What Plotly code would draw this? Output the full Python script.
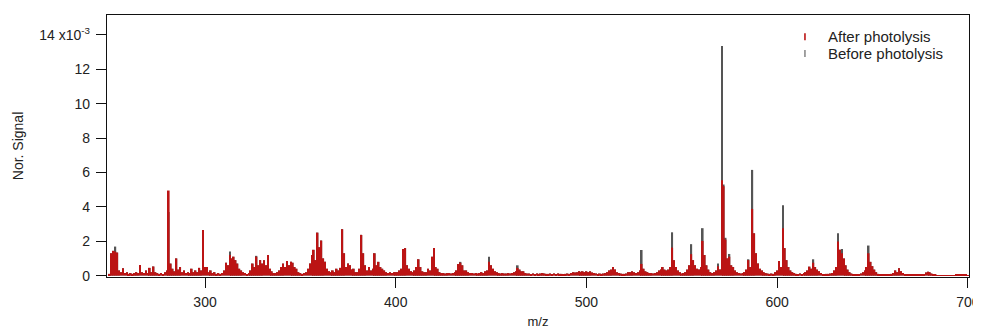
import plotly.graph_objects as go

# m/z axis: one stick per unit mass, 250 ... 700
mz = list(range(250, 701))

# Normalized signal (x10^-3), after photolysis (red)
after = [
    0.10, 1.30, 1.44, 1.40, 1.34, 0.30, 0.20, 0.43, 0.15, 0.20,   # 250-259
    0.10, 0.15, 0.10, 0.15, 0.20, 0.15, 0.62, 0.20, 0.15, 0.30,   # 260-269
    0.15, 0.45, 0.20, 0.53, 0.20, 0.15, 0.10, 0.15, 0.10, 0.20,   # 270-279
    0.30, 4.95, 0.70, 0.40, 0.25, 1.00, 0.35, 0.50, 0.20, 0.30,   # 280-289
    0.15, 0.20, 0.15, 0.40, 0.20, 0.30, 0.20, 0.45, 0.30, 2.66,   # 290-299
    0.50, 0.50, 0.20, 0.30, 0.15, 0.20, 0.10, 0.15, 0.10, 0.15,   # 300-309
    0.30, 0.75, 0.60, 1.20, 1.00, 1.10, 0.90, 0.70, 0.40, 0.30,   # 310-319
    0.20, 0.15, 0.10, 0.15, 0.30, 0.70, 0.50, 1.10, 0.60, 0.90,   # 320-329
    0.70, 0.90, 0.60, 1.20, 0.40, 0.25, 0.15, 0.15, 0.20, 0.30,   # 330-339
    0.50, 0.70, 0.50, 0.85, 0.60, 0.80, 0.75, 0.50, 0.40, 0.20,   # 340-349
    0.15, 0.10, 0.15, 0.20, 0.40, 0.70, 1.20, 1.50, 0.90, 2.50,   # 350-359
    1.65, 2.04, 1.00, 0.80, 0.40, 0.25, 0.20, 0.30, 0.20, 0.40,   # 360-369
    0.30, 0.45, 2.70, 1.30, 0.50, 0.70, 0.60, 0.35, 0.40, 0.20,   # 370-379
    0.20, 0.40, 2.37, 1.30, 0.60, 0.30, 0.50, 0.30, 0.40, 1.30,   # 380-389
    0.60, 0.80, 0.50, 0.40, 0.30, 0.20, 0.15, 0.20, 0.15, 0.20,   # 390-399
    0.20, 0.20, 0.30, 0.40, 1.55, 1.60, 0.60, 0.40, 0.25, 0.20,   # 400-409
    0.30, 0.50, 0.95, 0.50, 0.25, 0.20, 0.20, 0.40, 0.30, 1.10,   # 410-419
    1.60, 0.50, 0.40, 0.20, 0.15, 0.15, 0.12, 0.15, 0.15, 0.12,   # 420-429
    0.15, 0.20, 0.30, 0.67, 0.75, 0.60, 0.30, 0.30, 0.20, 0.15,   # 430-439
    0.15, 0.12, 0.15, 0.12, 0.15, 0.20, 0.15, 0.25, 0.30, 0.80,   # 440-449
    0.60, 0.40, 0.25, 0.20, 0.15, 0.12, 0.15, 0.12, 0.12, 0.15,   # 450-459
    0.12, 0.15, 0.20, 0.25, 0.45, 0.35, 0.25, 0.25, 0.15, 0.12,   # 460-469
    0.12, 0.10, 0.12, 0.10, 0.12, 0.10, 0.12, 0.15, 0.12, 0.10,   # 470-479
    0.10, 0.12, 0.10, 0.12, 0.10, 0.12, 0.10, 0.10, 0.08, 0.10,   # 480-489
    0.12, 0.10, 0.15, 0.20, 0.18, 0.20, 0.25, 0.22, 0.25, 0.20,   # 490-499
    0.25, 0.20, 0.25, 0.18, 0.15, 0.12, 0.10, 0.12, 0.10, 0.12,   # 500-509
    0.15, 0.20, 0.30, 0.35, 0.50, 0.35, 0.20, 0.15, 0.12, 0.10,   # 510-519
    0.10, 0.12, 0.20, 0.20, 0.25, 0.20, 0.15, 0.20, 0.30, 0.68,   # 520-529
    0.40, 0.25, 0.20, 0.15, 0.15, 0.12, 0.15, 0.20, 0.30, 0.35,   # 530-539
    0.50, 0.35, 0.30, 0.35, 0.50, 1.63, 0.90, 0.50, 0.30, 0.20,   # 540-549
    0.12, 0.15, 0.20, 0.35, 0.60, 1.25, 0.90, 0.60, 0.40, 0.35,   # 550-559
    0.50, 2.02, 1.20, 0.60, 0.35, 0.20, 0.15, 0.20, 0.30, 0.55,   # 560-569
    0.35, 5.55, 5.20, 2.10, 1.00, 1.10, 0.60, 0.50, 0.30, 0.20,   # 570-579
    0.15, 0.12, 0.15, 0.20, 0.35, 0.90, 0.50, 3.88, 2.46, 1.30,   # 580-589
    0.70, 0.40, 0.30, 0.20, 0.15, 0.12, 0.10, 0.12, 0.10, 0.20,   # 590-599
    0.30, 0.85, 0.50, 2.76, 1.60, 0.90, 0.50, 0.30, 0.20, 0.15,   # 600-609
    0.10, 0.10, 0.12, 0.10, 0.15, 0.20, 0.30, 0.52, 0.40, 0.75,   # 610-619
    0.50, 0.35, 0.25, 0.15, 0.10, 0.08, 0.10, 0.10, 0.12, 0.15,   # 620-629
    0.30, 0.50, 1.98, 1.50, 1.30, 1.00, 0.60, 0.35, 0.20, 0.12,   # 630-639
    0.08, 0.07, 0.08, 0.10, 0.12, 0.20, 0.30, 0.50, 1.30, 0.80,   # 640-649
    0.55, 0.35, 0.20, 0.10, 0.06, 0.05, 0.05, 0.05, 0.06, 0.08,   # 650-659
    0.10, 0.15, 0.30, 0.20, 0.43, 0.25, 0.15, 0.10, 0.06, 0.05,   # 660-669
    0.04, 0.04, 0.04, 0.04, 0.05, 0.06, 0.08, 0.10, 0.18, 0.23,   # 670-679
    0.20, 0.12, 0.06, 0.04, 0.03, 0.03, 0.03, 0.03, 0.03, 0.03,   # 680-689
    0.03, 0.03, 0.03, 0.03, 0.04, 0.04, 0.04, 0.04, 0.04, 0.04,   # 690-699
    0.03,                                                         # 700
]

# Normalized signal (x10^-3), before photolysis (grey)
before = [
    0.10, 1.30, 1.44, 1.69, 1.34, 0.30, 0.20, 0.43, 0.15, 0.20,   # 250-259
    0.10, 0.15, 0.10, 0.15, 0.20, 0.15, 0.62, 0.20, 0.15, 0.30,   # 260-269
    0.15, 0.45, 0.20, 0.53, 0.20, 0.15, 0.10, 0.15, 0.10, 0.20,   # 270-279
    0.30, 3.70, 0.70, 0.40, 0.25, 1.00, 0.35, 0.50, 0.20, 0.30,   # 280-289
    0.15, 0.20, 0.15, 0.40, 0.20, 0.30, 0.20, 0.45, 0.30, 1.78,   # 290-299
    0.50, 0.50, 0.20, 0.30, 0.15, 0.20, 0.10, 0.15, 0.10, 0.15,   # 300-309
    0.30, 0.75, 0.60, 1.40, 1.00, 1.10, 0.90, 0.70, 0.40, 0.30,   # 310-319
    0.20, 0.15, 0.10, 0.15, 0.30, 0.70, 0.50, 1.15, 0.60, 0.90,   # 320-329
    0.70, 0.90, 0.60, 1.20, 0.40, 0.25, 0.15, 0.15, 0.20, 0.30,   # 330-339
    0.50, 0.70, 0.50, 0.85, 0.60, 0.80, 0.75, 0.50, 0.40, 0.20,   # 340-349
    0.15, 0.10, 0.15, 0.20, 0.40, 0.70, 1.20, 1.50, 0.90, 2.50,   # 350-359
    1.65, 2.04, 1.00, 0.80, 0.40, 0.25, 0.20, 0.30, 0.20, 0.40,   # 360-369
    0.30, 0.45, 2.70, 1.30, 0.50, 0.70, 0.60, 0.35, 0.40, 0.20,   # 370-379
    0.20, 0.40, 2.37, 1.30, 0.60, 0.30, 0.50, 0.30, 0.40, 1.30,   # 380-389
    0.60, 0.80, 0.50, 0.40, 0.30, 0.20, 0.15, 0.20, 0.15, 0.20,   # 390-399
    0.20, 0.20, 0.30, 0.40, 1.55, 1.60, 0.60, 0.40, 0.25, 0.20,   # 400-409
    0.30, 0.50, 0.95, 0.50, 0.25, 0.20, 0.20, 0.40, 0.30, 1.10,   # 410-419
    1.60, 0.50, 0.40, 0.20, 0.15, 0.15, 0.12, 0.15, 0.15, 0.12,   # 420-429
    0.15, 0.20, 0.30, 0.67, 0.80, 0.60, 0.30, 0.30, 0.20, 0.15,   # 430-439
    0.15, 0.12, 0.15, 0.12, 0.15, 0.20, 0.15, 0.25, 0.30, 1.10,   # 440-449
    0.60, 0.40, 0.25, 0.20, 0.15, 0.12, 0.15, 0.12, 0.12, 0.15,   # 450-459
    0.12, 0.15, 0.20, 0.25, 0.60, 0.35, 0.25, 0.25, 0.15, 0.12,   # 460-469
    0.12, 0.10, 0.12, 0.10, 0.12, 0.10, 0.12, 0.15, 0.12, 0.10,   # 470-479
    0.10, 0.12, 0.10, 0.12, 0.10, 0.12, 0.10, 0.10, 0.08, 0.10,   # 480-489
    0.12, 0.10, 0.15, 0.20, 0.18, 0.20, 0.25, 0.22, 0.25, 0.20,   # 490-499
    0.25, 0.20, 0.25, 0.18, 0.15, 0.12, 0.10, 0.12, 0.10, 0.12,   # 500-509
    0.15, 0.20, 0.30, 0.35, 0.50, 0.35, 0.20, 0.15, 0.12, 0.10,   # 510-519
    0.10, 0.12, 0.20, 0.20, 0.25, 0.20, 0.15, 0.20, 0.30, 1.49,   # 520-529
    0.40, 0.25, 0.20, 0.15, 0.15, 0.12, 0.15, 0.20, 0.30, 0.35,   # 530-539
    0.50, 0.35, 0.30, 0.35, 0.50, 2.52, 0.90, 0.50, 0.30, 0.20,   # 540-549
    0.12, 0.15, 0.20, 0.35, 0.60, 1.83, 0.90, 0.60, 0.40, 0.35,   # 550-559
    0.50, 2.76, 1.20, 0.60, 0.35, 0.20, 0.15, 0.20, 0.30, 0.70,   # 560-569
    0.35, 13.35, 5.30, 2.20, 1.00, 1.26, 0.60, 0.50, 0.30, 0.20,  # 570-579
    0.15, 0.12, 0.15, 0.20, 0.35, 0.95, 0.50, 6.15, 2.46, 1.30,   # 580-589
    0.70, 0.40, 0.30, 0.20, 0.15, 0.12, 0.10, 0.12, 0.10, 0.20,   # 590-599
    0.30, 0.85, 0.50, 4.09, 1.60, 0.90, 0.50, 0.30, 0.20, 0.15,   # 600-609
    0.10, 0.10, 0.12, 0.10, 0.15, 0.20, 0.30, 0.52, 0.40, 0.95,   # 610-619
    0.50, 0.35, 0.25, 0.15, 0.10, 0.08, 0.10, 0.10, 0.12, 0.15,   # 620-629
    0.30, 0.50, 2.46, 1.50, 1.55, 1.00, 0.60, 0.35, 0.20, 0.12,   # 630-639
    0.08, 0.07, 0.08, 0.10, 0.12, 0.20, 0.30, 0.50, 1.75, 0.80,   # 640-649
    0.55, 0.35, 0.20, 0.10, 0.06, 0.05, 0.05, 0.05, 0.06, 0.08,   # 650-659
    0.10, 0.15, 0.30, 0.20, 0.43, 0.25, 0.15, 0.10, 0.06, 0.05,   # 660-669
    0.04, 0.04, 0.04, 0.04, 0.05, 0.06, 0.08, 0.10, 0.18, 0.23,   # 670-679
    0.20, 0.12, 0.06, 0.04, 0.03, 0.03, 0.03, 0.03, 0.03, 0.03,   # 680-689
    0.03, 0.03, 0.03, 0.03, 0.04, 0.04, 0.04, 0.04, 0.04, 0.04,   # 690-699
    0.03,                                                         # 700
]

x_ticks = [300, 400, 500, 600, 700]
y_ticks = [0, 2, 4, 6, 8, 10, 12, 14]
y_tick_labels = ["0", "2", "4", "6", "8", "10", "12", "14 x10<sup>-3</sup>"]

series_names = ["After photolysis", "Before photolysis"]
RED = "#bb1414"
GREY = "#555555"
FONT = "Liberation Sans, Arial, sans-serif"
TXT = "#222222"

fig = go.Figure()
fig.add_trace(go.Bar(x=mz, y=before, width=0.85, marker=dict(color=GREY, line=dict(width=0)),
                     showlegend=False, name=series_names[1]))
fig.add_trace(go.Bar(x=mz, y=after, width=0.85, marker=dict(color=RED, line=dict(width=0)),
                     showlegend=False, name=series_names[0]))

axis_common = dict(showline=True, linecolor="#111", linewidth=1.3, mirror=True,
                   ticks="outside", ticklen=10, tickwidth=1.2, tickcolor="#111",
                   showgrid=False, zeroline=False, automargin=False,
                   tickfont=dict(family=FONT, size=14, color=TXT))

# legend drawn as text + thin stick glyphs, like the original
legend_rows = [(0.917, 0.930, 0.904, RED, 1.6), (0.853, 0.866, 0.840, GREY, 1.1)]
annotations = []
shapes = []
for name, (yc, y0, y1, col, lw) in zip(series_names, legend_rows):
    annotations.append(dict(xref="paper", yref="paper", x=0.834, y=yc, xanchor="left", yanchor="middle",
                            text=name, showarrow=False, font=dict(family=FONT, size=15, color=TXT)))
    shapes.append(dict(type="line", xref="paper", yref="paper", x0=0.8097, x1=0.8097, y0=y0, y1=y1,
                       line=dict(color=col, width=lw)))

# the page body adds an 8 px margin, so the figure is sized to fill the rest of the window
fig.update_layout(
    width=973, height=321,
    margin=dict(l=99, r=12, t=7, b=52),
    paper_bgcolor="white", plot_bgcolor="white",
    barmode="overlay", showlegend=False,
    font=dict(family=FONT, size=14, color=TXT),
    xaxis=dict(range=[248.6, 700.6], tickvals=x_ticks, ticklabelstandoff=2,
               title=dict(text="m/z", font=dict(family=FONT, size=13, color=TXT), standoff=8),
               **axis_common),
    yaxis=dict(range=[-0.08, 15.16], tickvals=y_ticks, ticktext=y_tick_labels, ticklabelstandoff=3,
               title=dict(text="Nor. Signal", font=dict(family=FONT, size=14, color=TXT), standoff=12),
               **axis_common),
    annotations=annotations,
    shapes=shapes,
)

fig.write_html("out.html")
